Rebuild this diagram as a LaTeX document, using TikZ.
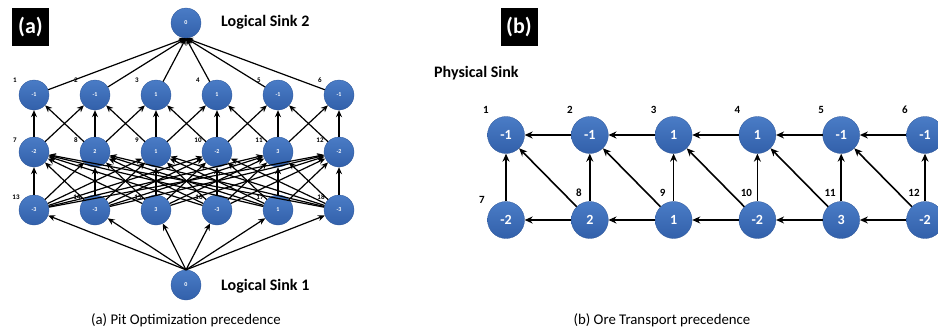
\documentclass[tikz,border=0pt]{standalone}
\usepackage{fontspec}
\setmainfont{Carlito}
\usetikzlibrary{arrows.meta,calc}

\definecolor{balltop}{RGB}{74,124,198}
\definecolor{ballbot}{RGB}{50,96,170}

\tikzset{
  ball/.style={circle, inner sep=0pt, top color=balltop, bottom color=ballbot,
    draw=ballbot!90!black, line width=0.3pt, text=white},
  smallball/.style={ball, minimum size=30pt, font=\bfseries\fontsize{6}{6}\selectfont},
  bigball/.style={ball, minimum size=37pt, font=\bfseries\fontsize{14}{14}\selectfont},
  smalllbl/.style={font=\bfseries\fontsize{7}{7}\selectfont, inner sep=0pt},
  biglbl/.style={font=\bfseries\fontsize{11}{11}\selectfont, inner sep=0pt},
  sinklbl/.style={font=\bfseries\fontsize{16}{16}\selectfont, anchor=west, inner sep=0pt},
  caption/.style={font=\fontsize{14.8}{14.8}\selectfont, inner sep=0pt},
  tag/.style={fill=black, text=white, minimum width=37pt, minimum height=38pt,
    inner sep=0pt, font=\bfseries\fontsize{22}{22}\selectfont},
  arr/.style={-{Stealth[length=7pt,width=6pt]}, line width=1.2pt},
  barr/.style={-{Stealth[length=8pt,width=7pt]}, line width=1.6pt},
}

\begin{document}
\begin{tikzpicture}[x=1pt,y=-1pt]
\useasboundingbox (0,0) rectangle (938,327);
\clip (0,0) rectangle (938,327);

% ---------- (a) pit optimization precedence ----------
\node[tag] (taga) at (30.5,27) {(a)};

\node[smallball] (sinktop) at (186,23) {0};
\node[smallball] (sinkbot) at (186,285) {0};
\node[sinklbl] (sinktoplbl) at (221,22) {Logical Sink 2};
\node[sinklbl] (sinkbotlbl) at (221,286) {Logical Sink 1};

\foreach \v [count=\i] in {-1,-1,1,1,-1,-1}
  \node[smallball] (a\i) at ({34+61*(\i-1)},95) {\v};
\foreach \v [count=\i] in {-2,2,1,-2,3,-2}
  \node[smallball] (b\i) at ({34+61*(\i-1)},152) {\v};
\foreach \v [count=\i] in {-3,-3,3,-3,1,-3}
  \node[smallball] (c\i) at ({34+61*(\i-1)},210) {\v};

% block numbers
\foreach \i in {1,...,6} {
  \node[smalllbl] at ($(a\i)+(-19,-15)$) {\i};
  \pgfmathtruncatemacro{\j}{\i+6}
  \node[smalllbl] at ($(b\i)+(-19,-12)$) {\j};
  \pgfmathtruncatemacro{\k}{\i+12}
  \node[smalllbl] at ($(c\i)+(-18,-13)$) {\k};
}

% top level into logical sink 2
\foreach \i in {1,...,6}
  \draw[arr] (a\i) -- (sinktop.south);
% second level to the blocks above
\foreach \i in {1,...,6}
  \draw[arr] (b\i) -- (a\i);
\foreach \i in {1,...,5} {
  \pgfmathtruncatemacro{\n}{\i+1}
  \draw[arr] (b\i) -- (a\n);
  \draw[arr] (b\n) -- (a\i);
}
% third level to every block of the second level
\foreach \i in {1,...,6}
  \foreach \j in {1,...,6}
    \draw[arr] (c\i) -- (b\j);
% logical sink 1 to the bottom level
\foreach \i in {1,...,6}
  \draw[arr] (sinkbot.north) -- (c\i);

\node[caption] (capa) at (186,320) {(a) Pit Optimization precedence};

% ---------- (b) ore transport precedence ----------
\node[tag] (tagb) at (519,27) {(b)};
\node[sinklbl] (physlbl) at (434,73) {Physical Sink};

\foreach \v [count=\i] in {-1,-1,1,1,-1,-1}
  \node[bigball] (p\i) at ({506+83.8*(\i-1)},135) {\v};
\foreach \v [count=\i] in {-2,2,1,-2,3,-2}
  \node[bigball] (q\i) at ({506+83.8*(\i-1)},220) {\v};

\foreach \i in {1,...,6} {
  \node[biglbl] at ($(p\i)+(-20,-25)$) {\i};
}
\node[biglbl] at ($(q1)+(-24,-20)$) {7};
\foreach \i in {2,...,6} {
  \pgfmathtruncatemacro{\j}{\i+6}
  \node[biglbl] at ($(q\i)+(-11,-27)$) {\j};
}

\foreach \i in {1,...,5} {
  \pgfmathtruncatemacro{\n}{\i+1}
  \draw[barr] (p\n) -- (p\i);
  \draw[barr] (q\n) -- (q\i);
  \draw[barr] (q\n) -- (p\i);
}
\foreach \i in {1,...,6}
  \draw[barr] (q\i) -- (p\i);

\node[caption] (capb) at (662,320) {(b) Ore Transport precedence};
\end{tikzpicture}
\end{document}
